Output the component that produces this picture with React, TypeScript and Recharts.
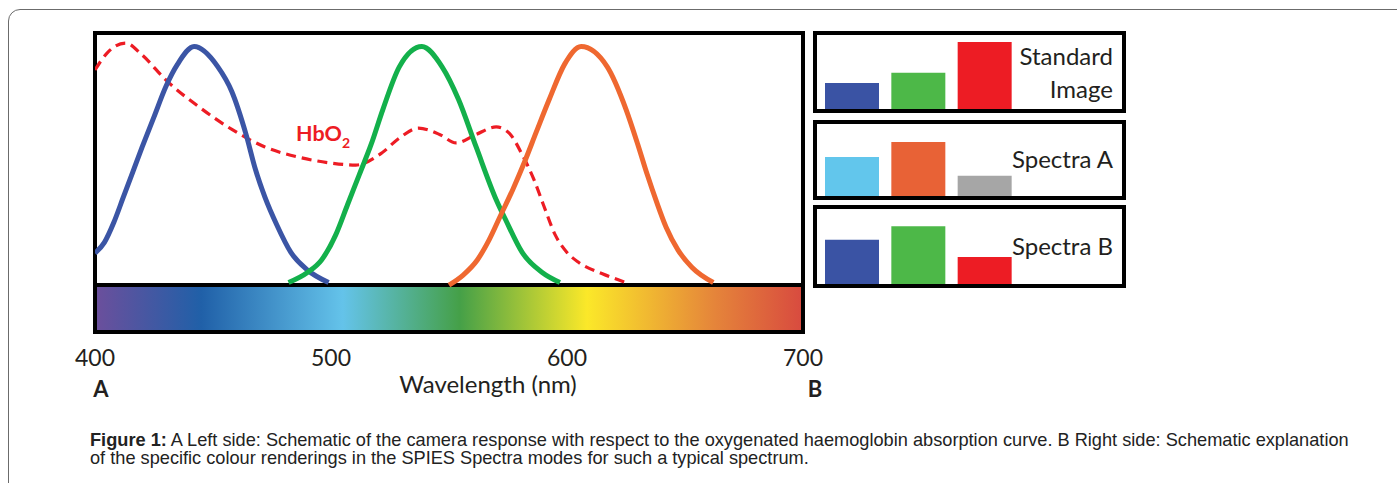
import React from 'react';
import { LineChart, Line, XAxis, YAxis, ReferenceArea, BarChart, Bar, Cell } from 'recharts';

// Camera channel responses (relative, 0-100) vs wavelength (nm)
const blueWavelengths = [400, 404, 408, 412, 416, 420, 425, 430, 435, 442, 452, 458, 464, 468, 472, 477, 483, 490, 499];
const blueResponse = [12.7, 17, 25, 35, 45, 55, 67, 79, 88, 95, 87, 77, 60, 46, 35, 24, 13, 6, 1];

const greenWavelengths = [482, 490, 496, 502, 507, 512, 517, 522, 529, 538.5, 547, 554, 561.5, 570, 574, 581, 589.5, 597];
const greenResponse = [1, 5, 10, 20, 32, 44, 56, 70, 87, 95, 87, 74, 55, 34, 26, 13, 5, 1];

const redWavelengths = [550, 556, 562, 567, 572, 577, 582, 587, 592.5, 599, 606, 617, 625, 630, 634, 638, 642, 647, 653, 662];
const redResponse = [0, 4, 10, 18, 28, 38, 49, 61, 74, 88, 95, 87, 70, 56, 44, 33, 23, 14, 7, 1];

// Oxygenated haemoglobin absorption (schematic)
const hbo2Wavelengths = [400, 405.5, 413, 420, 430, 444, 458, 472, 486, 500, 510.5, 521.5, 529, 537, 546, 553, 561.5, 570, 575.5, 581, 586, 590, 595, 600, 605, 615, 625];
const hbo2Absorption = [85.7, 92.8, 96.4, 91.6, 81.7, 71, 62, 55, 51, 48.6, 47.8, 52.6, 58.6, 62.5, 60, 56.6, 60, 63, 60.5, 52, 42, 32, 20, 13, 9, 4.5, 1];

const wavelengthTicks = [400, 500, 600, 700];

// Right side: channel renderings
const channels = ['Blue', 'Green', 'Red'];
const standardValues = [35, 49, 90.5];
const spectraAValues = [54, 75, 28];
const spectraBValues = [59, 77, 36];
const standardColors = ['#3a53a4', '#4db848', '#ed1c24'];
const spectraAColors = ['#62c6ec', '#e86236', '#a6a6a6'];
const spectraBColors = ['#3a53a4', '#4db848', '#ed1c24'];

const toPoints = (w: number[], v: number[]) => w.map((x, i) => ({ wl: x, v: v[i] }));
const toBars = (vals: number[]) => channels.map((c, i) => ({ channel: c, value: vals[i] }));

const Y_MIN = -18.7;
const Y_MAX = 100.4;
const TEXT = '#231f20';

const renderTick = (props: any) => {
  const { x, y, payload } = props;
  return (
    <text x={x} y={y + 34} textAnchor="middle" fontFamily="Lato" fontSize={23} fill={TEXT}>
      {payload.value}
    </text>
  );
};

function MiniBars({ top, height, values, colors }: { top: number; height: number; values: number[]; colors: string[] }) {
  return (
    <div style={{ position: 'absolute', left: 819, top }}>
      <BarChart width={199} height={height} data={toBars(values)} margin={{ top: 0, right: 0, bottom: 0, left: 0 }} barCategoryGap={0}>
        <XAxis dataKey="channel" hide />
        <YAxis type="number" domain={[0, 100]} hide />
        <Bar dataKey="value" barSize={54} isAnimationActive={false}>
          {values.map((_, i) => (
            <Cell key={i} fill={colors[i]} />
          ))}
        </Bar>
      </BarChart>
    </div>
  );
}

const boxStyle = (top: number, height: number): React.CSSProperties => ({
  position: 'absolute',
  left: 813,
  top,
  width: 313,
  height,
  border: '4px solid #000',
  boxSizing: 'border-box',
});

export default function App() {
  return (
    <div style={{ position: 'absolute', left: 0, top: 0, width: 1397, height: 483, overflow: 'hidden', background: '#fff' }}>
      <div style={{ position: 'absolute', left: 8, top: 9, width: 1500, height: 600, border: '1.5px solid #6b6b6b', borderRadius: 12 }} />

      <div style={{ position: 'absolute', left: 0, top: 0 }}>
        <LineChart width={830} height={483} margin={{ top: 33, right: 27, bottom: 111, left: 95 }}>
          <defs>
            <linearGradient id="spectrum" x1="0" y1="0" x2="1" y2="0">
              <stop offset="0" stopColor="#6c4f9c" />
              <stop offset="0.15" stopColor="#2060a8" />
              <stop offset="0.35" stopColor="#64c3ea" />
              <stop offset="0.515" stopColor="#45a048" />
              <stop offset="0.695" stopColor="#fbe829" />
              <stop offset="0.874" stopColor="#e5853a" />
              <stop offset="1" stopColor="#d84a3f" />
            </linearGradient>
          </defs>
          <XAxis
            type="number"
            dataKey="wl"
            domain={[400, 700]}
            ticks={wavelengthTicks}
            axisLine={false}
            tickLine={false}
            tickSize={0}
            tickMargin={0}
            height={40}
            tick={renderTick}
            allowDataOverflow
          />
          <YAxis type="number" domain={[Y_MIN, Y_MAX]} hide allowDataOverflow />
          <ReferenceArea x1={400} x2={700} y1={Y_MIN} y2={0} fill="url(#spectrum)" fillOpacity={1} stroke="#000" strokeWidth={4} />
          <ReferenceArea x1={400} x2={700} y1={Y_MIN} y2={Y_MAX} fill="none" stroke="#000" strokeWidth={4} />
          <Line data={toPoints(hbo2Wavelengths, hbo2Absorption)} dataKey="v" type="monotone" stroke="#ed1c24" strokeWidth={3.2} strokeDasharray="10 6" dot={false} activeDot={false} isAnimationActive={false} />
          <Line data={toPoints(blueWavelengths, blueResponse)} dataKey="v" type="monotone" stroke="#3b55a5" strokeWidth={5} dot={false} activeDot={false} isAnimationActive={false} />
          <Line data={toPoints(greenWavelengths, greenResponse)} dataKey="v" type="monotone" stroke="#13b04b" strokeWidth={5} dot={false} activeDot={false} isAnimationActive={false} />
          <Line data={toPoints(redWavelengths, redResponse)} dataKey="v" type="monotone" stroke="#ef6830" strokeWidth={5} dot={false} activeDot={false} isAnimationActive={false} />
        </LineChart>
      </div>

      <div style={boxStyle(31, 82)} />
      <div style={boxStyle(120, 80)} />
      <div style={boxStyle(205, 83)} />
      <MiniBars top={35} height={74} values={standardValues} colors={standardColors} />
      <MiniBars top={124} height={72} values={spectraAValues} colors={spectraAColors} />
      <MiniBars top={209} height={75} values={spectraBValues} colors={spectraBColors} />

      <svg width={1397} height={483} style={{ position: 'absolute', left: 0, top: 0, pointerEvents: 'none' }}>
        <text x={296} y={141} fontFamily="Lato" fontWeight="bold" fontSize={21.5} fill="#ed1c24">
          HbO<tspan fontSize={14} dy={7}>2</tspan>
        </text>
        <text x={488} y={393} textAnchor="middle" fontFamily="Lato" fontSize={24} fill={TEXT}>Wavelength (nm)</text>
        <text x={101} y={397} textAnchor="middle" fontFamily="Lato" fontWeight="bold" fontSize={22} fill={TEXT}>A</text>
        <text x={815} y={397} textAnchor="middle" fontFamily="Lato" fontWeight="bold" fontSize={22} fill={TEXT}>B</text>
        <text x={1113} y={65} textAnchor="end" fontFamily="Lato" fontSize={24} fill={TEXT}>Standard</text>
        <text x={1113} y={98} textAnchor="end" fontFamily="Lato" fontSize={24} fill={TEXT}>Image</text>
        <text x={1113} y={168} textAnchor="end" fontFamily="Lato" fontSize={24} fill={TEXT}>Spectra A</text>
        <text x={1113} y={255} textAnchor="end" fontFamily="Lato" fontSize={24} fill={TEXT}>Spectra B</text>
      </svg>

      <div style={{ position: 'absolute', left: 90, top: 431, fontFamily: '"Liberation Sans", Arial, sans-serif', fontSize: 18.2, lineHeight: '18px', color: '#222', whiteSpace: 'nowrap' }}>
        <b>Figure 1:</b> A Left side: Schematic of the camera response with respect to the oxygenated haemoglobin absorption curve. B Right side: Schematic explanation
        <br />
        of the specific colour renderings in the SPIES Spectra modes for such a typical spectrum.
      </div>
    </div>
  );
}
